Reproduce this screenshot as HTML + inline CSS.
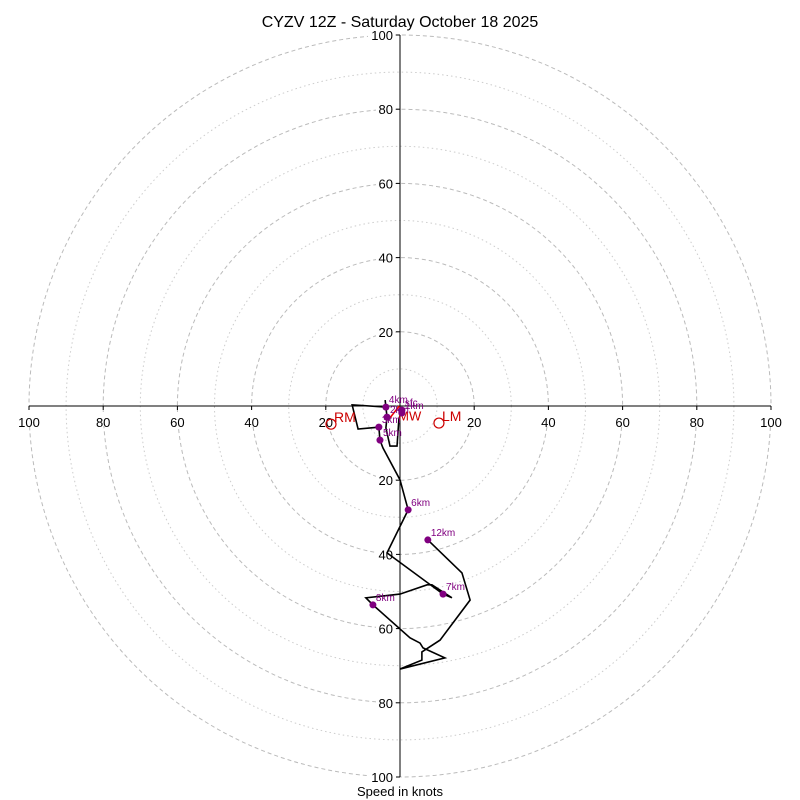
<!DOCTYPE html>
<html><head><meta charset="utf-8"><style>
body{margin:0;background:#fff}
svg{display:block;font-family:"Liberation Sans","DejaVu Sans",sans-serif}
</style></head><body>
<svg id="c" width="800" height="800">
<text x="400" y="27" text-anchor="middle" font-size="16">CYZV 12Z - Saturday October 18 2025</text>
<text x="400" y="796" text-anchor="middle" font-size="13">Speed in knots</text>
</svg>
<script>
const ringValues=[10,20,30,40,50,60,70,80,90,100];
const tickLabels=[20,40,60,80,100];
const uWind=[0.5,-0.3,-0.8,-2.7,-3.8,-3.5,-4.0,-3.8,-12.9,-11.3,-5.7,-5.4,-4.6,0,2.2,-3.5,11.6,14.0,8.6,7.3,0,-9.2,-7.3,2.7,5.4,6.2,12.1,0,5.9,5.9,10.8,18.9,16.7,7.5];
const vWind=[-1.1,-3.5,-10.8,-10.8,-5.9,-3.0,1.6,-0.3,0.3,-6.2,-5.7,-9.2,-11.3,-19.9,-28.0,-39.6,-50.7,-51.7,-48.2,-48.2,-50.7,-51.7,-53.6,-62.5,-63.9,-65.2,-67.9,-70.9,-68.5,-66.3,-63.1,-52.3,-45.0,-36.1];
const markerLabels=["sfc","1km","2km","3km","4km","5km","6km","7km","8km","12km"];
const markerU=[0.5,0.5,-3.5,-5.7,-3.8,-5.4,2.2,11.6,-7.3,7.5];
const markerV=[-1.1,-1.9,-3.0,-5.7,-0.3,-9.2,-28.0,-50.7,-53.6,-36.1];
const motionLabels=["RM","LM"];
const motionU=[-18.6,10.5];
const motionV=[-4.9,-4.6];
const cx=400,cy=406,k=3.71;
const X=u=>cx+u*k, Y=v=>cy-v*k;
const svg=document.getElementById('c');
const NS='http://www.w3.org/2000/svg';
function mk(t,a,p){const e=document.createElementNS(NS,t);for(const n in a)e.setAttribute(n,a[n]);(p||svg).appendChild(e);return e;}
ringValues.forEach(r=>{
 const c=mk('circle',{cx:cx,cy:cy,r:r*k,fill:'none',stroke:r%20===0?'#bbb':'#ccc','stroke-width':1,'stroke-dasharray':r%20===0?'4,3':'1.5,3'});
 
 
});
const ax1=mk('line',{x1:X(-100),y1:cy,x2:X(100),y2:cy,stroke:'#000','stroke-width':1});


const ax2=mk('line',{x1:cx,y1:Y(100),x2:cx,y2:Y(-100),stroke:'#000','stroke-width':1});


tickLabels.forEach(t=>{
 [[X(t),cy+16,'middle'],[X(-t),cy+16,'middle']].forEach(p=>{
  mk('line',{x1:p[0],y1:cy,x2:p[0],y2:cy+4,stroke:'#000'});
  mk('rect',{x:p[0]-(t===100?13:9),y:cy+6,width:t===100?26:18,height:14,fill:'#fff'});
  const tx=mk('text',{x:p[0],y:p[1]+5,'text-anchor':'middle','font-size':13});tx.textContent=t;
  
  
 });
 [Y(t),Y(-t)].forEach(y=>{
  mk('line',{x1:cx-4,y1:y,x2:cx,y2:y,stroke:'#000'});
  mk('rect',{x:cx-(t===100?32:24),y:y-8,width:t===100?27:19,height:15,fill:'#fff'});
  const tx=mk('text',{x:cx-7,y:y+5,'text-anchor':'end','font-size':13});tx.textContent=t;
  
  
 });
});
const pts=uWind.map((u,i)=>X(u)+','+Y(vWind[i])).join(' ');
const pl=mk('polyline',{points:pts,fill:'none',stroke:'#000','stroke-width':1.6});


const ml=mk('line',{x1:X(-0.2),y1:Y(0),x2:X(-2.7),y2:Y(-3.2),stroke:'#e00','stroke-width':1.5});


const mw=mk('text',{x:X(-0.5),y:Y(-3.9),fill:'#c00','font-size':13});mw.textContent='MW';


markerLabels.forEach((l,i)=>{
 const d=mk('circle',{cx:X(markerU[i]),cy:Y(markerV[i]),r:3.5,fill:'#800080'});
 
 
 const t=mk('text',{x:X(markerU[i])+3,y:Y(markerV[i])-4,fill:'#800080','font-size':10});t.textContent=l;
 
 
});
motionLabels.forEach((l,i)=>{
 const c=mk('circle',{cx:X(motionU[i]),cy:Y(motionV[i]),r:5,fill:'none',stroke:'#c00','stroke-width':1.2});
 
 
 const t=mk('text',{x:X(motionU[i])+3,y:Y(motionV[i])-2,fill:'#c00','font-size':14});t.textContent=l;
 
 
});
</script>
</body></html>
